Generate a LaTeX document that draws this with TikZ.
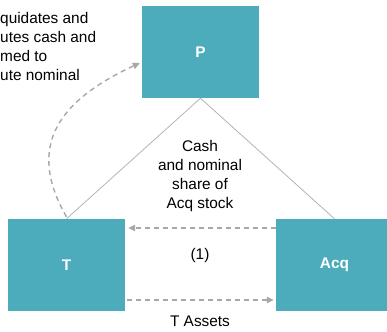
\documentclass[tikz,border=0pt]{standalone}
\usepackage{fontspec}
\setmainfont{Liberation Sans}
\usetikzlibrary{arrows.meta,calc}
\definecolor{boxteal}{HTML}{4CACBB}
\definecolor{linegray}{HTML}{B4B4B4}
\definecolor{dashgray}{HTML}{A8A8A8}
\tikzset{
    dealbox/.style={fill=boxteal, draw=none, minimum width=117pt, minimum height=92pt, text=white, font=\fontsize{15.4}{19}\selectfont\bfseries},
    dealline/.style={draw=linegray, line width=0.8pt},
    dealarrow/.style={draw=dashgray, line width=1.4pt, dash pattern=on 5pt off 4pt, -{Triangle[length=7pt,width=6.5pt]}},
    dealnote/.style={align=center, inner sep=0pt, font=\fontsize{15.4}{19}\selectfont}
}
\begin{document}
\begin{tikzpicture}[x=1pt,y=-1pt]
        \useasboundingbox (0,0) rectangle (387,331);
        \clip (0,0) rectangle (387,331);
        \node[dealbox] (p) at (200.5,52) {P};
        \node[dealbox] (t) at (66.5,265) {T};
        \node[dealbox] (acq) at (334.5,265) {Acq};
        \node[dealnote, align=left, anchor=west] (liq) at (0,46) {quidates and\\utes cash and\\med to\\ute nominal};
        \node[dealnote] (cash) at (200,176.5) {Cash\\and nominal\\share of\\Acq stock};
        \node[dealnote] (one) at (200,256) {(1)};
        \node[dealnote] (assets) at (200,321) {T Assets};
        \draw[dealline] (p.south) -- (t.north);
        \draw[dealline] (p.south) -- (acq.north);
        \draw[dealarrow] ($(acq.west)+(0,-37)$) -- ($(t.east)+(3,-37)$);
        \draw[dealarrow] ($(t.east)+(2,35)$) -- ($(acq.west)+(-2,35)$);
        \draw[dealarrow] ($(t.north)+(0,-2)$) .. controls (25,145) and (60,100) .. ($(p.west)+(-2,11)$);
    \end{tikzpicture}
\end{document}
